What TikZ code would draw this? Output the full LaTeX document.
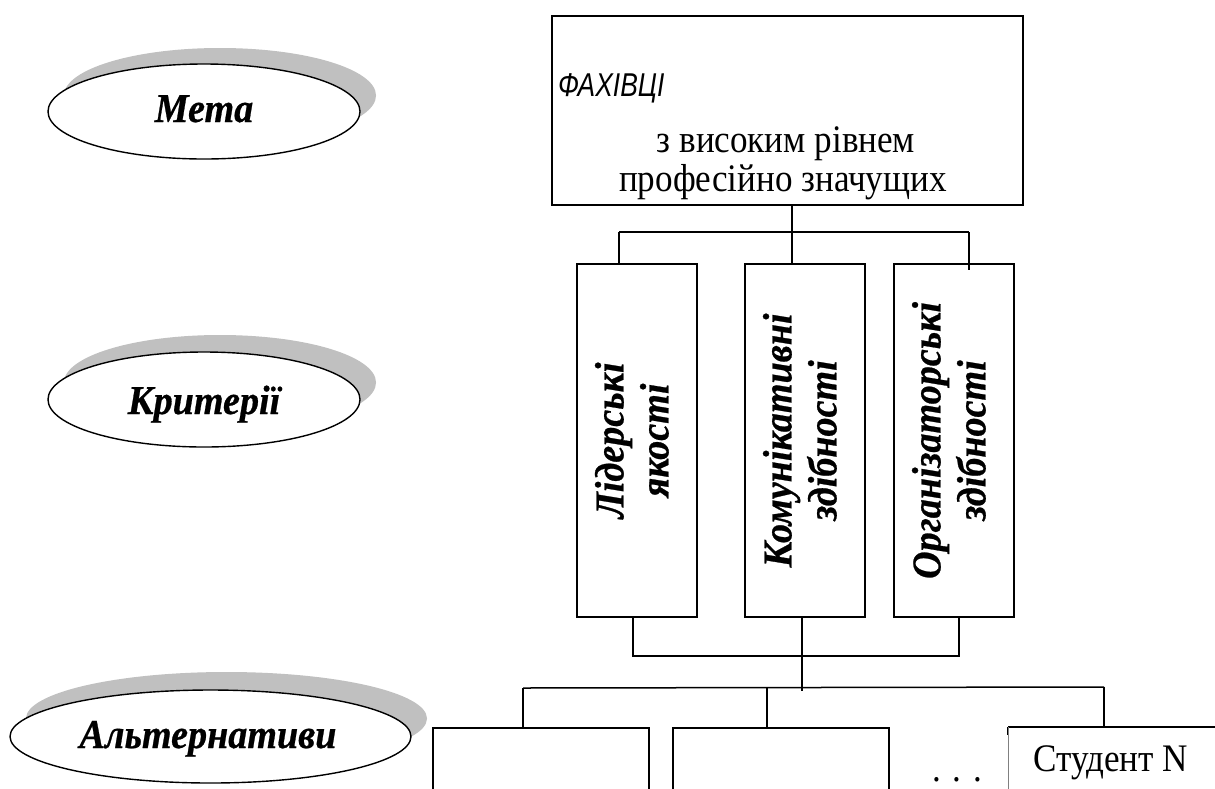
\documentclass[tikz,border=0pt]{standalone}
\usepackage{fontspec}
\setmainfont{Liberation Serif}
\newfontfamily\narrowserif[FakeStretch=0.9]{Liberation Serif}
\newfontfamily\heavyserif[FakeStretch=0.93,FakeBold=0.6]{Liberation Serif}
\newfontfamily\capsans[FakeStretch=0.8]{Liberation Sans}
\usetikzlibrary{shapes.geometric}
\definecolor{shadowgray}{RGB}{192,192,192}

\begin{document}
\begin{tikzpicture}[x=1pt,y=-1pt,
  box/.style={draw, line width=1.8pt, inner sep=0pt},
  wire/.style={line width=1.5pt},
  levelell/.style={ellipse, draw, line width=1.4pt, fill=white, inner sep=0pt},
  levelshadow/.style={ellipse, fill=shadowgray, inner sep=0pt},
  levellabel/.style={font=\heavyserif\fontsize{41}{46}\selectfont\bfseries\itshape, anchor=base, inner sep=0pt},
  crit/.style={box, anchor=north west, minimum width=120pt, minimum height=353pt,
    font=\heavyserif\fontsize{41}{45}\selectfont\bfseries\itshape},
  alt/.style={box, anchor=north west, minimum width=216pt, minimum height=100pt},
  plain/.style={font=\narrowserif\fontsize{39}{34}\selectfont, inner sep=0pt}
]
\clip (0,0) rectangle (1215,788);
\fill[white] (0,0) rectangle (1215,788);

% level ellipses with their grey drop shadows
\node[levelshadow, minimum width=312pt, minimum height=95pt] (goalsh) at (220,95.5) {};
\node[levelell, minimum width=312pt, minimum height=95pt] (goalell) at (204,111.5) {};
\node[levellabel] (goaltxt) at (204,122) {Мета};

\node[levelshadow, minimum width=312pt, minimum height=95pt] (critsh) at (220,382.5) {};
\node[levelell, minimum width=312pt, minimum height=95pt] (critell) at (204,399.5) {};
\node[levellabel] (crittxt) at (204,414) {Критерії};

\node[levelshadow, minimum width=401pt, minimum height=93pt] (altsh) at (226.5,718.5) {};
\node[levelell, minimum width=401pt, minimum height=93pt] (altell) at (210.5,736.5) {};
\node[levellabel] (alttxt) at (208,748) {Альтернативи};

% goal box
\node[box, anchor=north west, minimum width=471pt, minimum height=189pt] (goal) at (551,15) {};
\node[font=\capsans\itshape\fontsize{33}{36}\selectfont, anchor=base west, inner sep=0pt] (goalhead) at (558,96) {ФАХІВЦІ};
\node[plain, anchor=base] (goall1) at (786,152) {з високим рівнем};
\node[plain, anchor=base] (goall2) at (783,191) {професійно значущих};

% criteria
\node[crit] (c1) at (576,263) {\rotatebox{90}{\begin{tabular}{@{}c@{}}Лідерські\\якості\end{tabular}}};
\node[crit] (c2) at (744,263) {\rotatebox{90}{\begin{tabular}{@{}c@{}}Комунікативні\\здібності\end{tabular}}};
\node[crit] (c3) at (893,263) {\rotatebox{90}{\begin{tabular}{@{}c@{}}Організаторські\\здібності\end{tabular}}};

% alternatives
\node[alt] (s1) at (432,727) {};
\node[alt] (s2) at (672,727) {};
\node[anchor=north west, minimum width=230pt, minimum height=100pt, inner sep=0pt] (s3) at (1008,727) {};
\draw[line width=1.8pt] (s3.north west) -- (s3.north east);
\draw[line width=1.8pt] (s3.north west) -- ++(0,8);
\draw[line width=0.6pt, gray] (s3.north west) -- (s3.south west);
\node[plain, anchor=base west] (s3txt) at (1033,771) {Студент N};
\node[plain, anchor=base] (more) at (957,781) {. . .};

% goal -> criteria
\coordinate (tbl) at (619,232);
\coordinate (tb) at (792,232);
\coordinate (tbr) at (969,232);
\draw[wire] (goal.south -| tb) -- (tb);
\draw[wire] (tbl) -- (tbr);
\draw[wire] (tbl) -- (tbl |- c1.north);
\draw[wire] (tb) -- (tb |- c2.north);
\draw[wire] (tbr) -- ([yshift=-7pt]tbr |- c3.north);

% criteria -> alternatives
\coordinate (mbl) at (633,656);
\coordinate (mb) at (802,656);
\coordinate (mbr) at (959,656);
\coordinate (mbend) at (802,691);
\draw[wire] (mbl |- c1.south) -- (mbl) -- (mbr) -- (mbr |- c3.south);
\draw[wire] (mb |- c2.south) -- (mbend);

\coordinate (abl) at (523,688);
\coordinate (abm) at (767,688);
\coordinate (abr) at (1104,687);
\draw[wire] (abl) -- (abr);
\draw[wire] (abl) -- (abl |- s1.north);
\draw[wire] (abm) -- (abm |- s2.north);
\draw[wire] (abr) -- (abr |- s3.north);
\end{tikzpicture}
\end{document}
